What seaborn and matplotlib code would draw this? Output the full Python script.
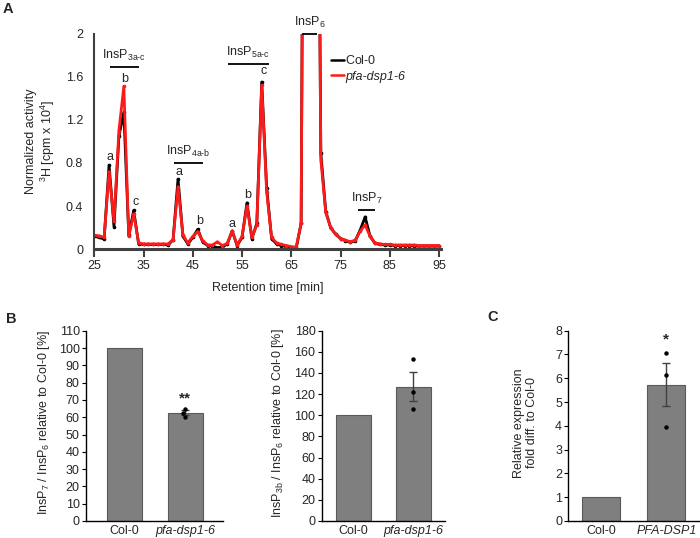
"""Inositol pyrophosphate profiles: HPLC trace (A), ratio bars (B) and expression (C)."""

# %% Import dependencies ----
import matplotlib
matplotlib.use('Agg')
import matplotlib.pyplot as plt
from matplotlib.lines import Line2D
import pandas as pd
import seaborn as sns


# %% Data ----
# SAX-HPLC trace, one fraction per minute
minutes = list(range(25, 96))
col0_activity = [
    0.12, 0.11, 0.095, 0.78, 0.21, 1.05, 1.27, 0.13, 0.36, 0.05,      # 25-34
    0.045, 0.045, 0.045, 0.045, 0.045, 0.04, 0.09, 0.65, 0.12, 0.05,  # 35-44
    0.11, 0.185, 0.07, 0.035, 0.03, 0.015, 0.02, 0.05, 0.17, 0.035,   # 45-54
    0.11, 0.43, 0.10, 0.24, 1.55, 0.57, 0.10, 0.05, 0.035, 0.025,     # 55-64
    0.01, 0.01, 0.24, 9.0, 10.0, 7.0, 0.89, 0.35, 0.20, 0.14,         # 65-74
    0.10, 0.08, 0.065, 0.08, 0.18, 0.30, 0.12, 0.055, 0.045, 0.04,    # 75-84
    0.04, 0.035, 0.035, 0.035, 0.035, 0.03, 0.03, 0.03, 0.03, 0.03,   # 85-94
    0.03]                                                             # 95
pfa_activity = [
    0.13, 0.125, 0.11, 0.72, 0.26, 1.10, 1.51, 0.12, 0.33, 0.06,
    0.05, 0.05, 0.05, 0.05, 0.05, 0.05, 0.09, 0.58, 0.13, 0.06,
    0.12, 0.165, 0.08, 0.04, 0.04, 0.07, 0.035, 0.055, 0.17, 0.04,
    0.12, 0.40, 0.11, 0.225, 1.52, 0.53, 0.11, 0.06, 0.045, 0.035,
    0.025, 0.02, 0.245, 9.0, 10.0, 7.0, 0.83, 0.34, 0.20, 0.14,
    0.10, 0.085, 0.07, 0.085, 0.17, 0.225, 0.12, 0.06, 0.05, 0.045,
    0.045, 0.04, 0.04, 0.04, 0.04, 0.04, 0.035, 0.035, 0.035, 0.035,
    0.035]

# peak group annotations: label, start, end, height
peak_groups = [
    (r'InsP$_{\text{3a-c}}$', 28.2, 34.0, 1.69),
    (r'InsP$_{\text{4a-b}}$', 41.2, 47.0, 0.80),
    (r'InsP$_{\text{5a-c}}$', 52.1, 60.4, 1.72),
    (r'InsP$_{6}$', 67.2, 70.2, 2.0),
    (r'InsP$_{7}$', 78.6, 82.0, 0.365),
]
peak_letters = ['a', 'b', 'c', 'a', 'b', 'a', 'b', 'c']
peak_letter_x = [28.2, 31.1, 33.3, 42.1, 46.3, 53.0, 56.2, 59.3]
peak_letter_y = [0.86, 1.58, 0.435, 0.72, 0.26, 0.23, 0.50, 1.65]

# B left: InsP7 / InsP6
b1_genotypes = ['Col-0', 'pfa-dsp1-6']
b1_means = [100, 62.6]
b1_err = [0, 1.4]
b1_points = [65.0, 62.5, 60.3]

# B right: InsP3b / InsP6
b2_genotypes = ['Col-0', 'pfa-dsp1-6']
b2_means = [100, 127.1]
b2_err = [0, 13.8]
b2_points = [153.0, 122.4, 106.0]

# C: relative expression
c_genotypes = ['Col-0', 'PFA-DSP1']
c_means = [1.0, 5.73]
c_err = [0, 0.9]
c_points = [7.05, 6.15, 3.97]


# %% Style ----
sns.set_theme(style='ticks')
plt.rcParams['font.family'] = ['Liberation Sans', 'DejaVu Sans']
plt.rcParams['mathtext.fontset'] = 'custom'
plt.rcParams['mathtext.rm'] = 'Liberation Sans'
plt.rcParams['mathtext.it'] = 'Liberation Sans:italic'
plt.rcParams['mathtext.bf'] = 'Liberation Sans:bold'
plt.rcParams['font.size'] = 9

FS = 9
BAR_COLOR = '#7f7f7f'
BAR_EDGE = '#5a5a5a'

fig = plt.figure(figsize=(7, 5.38), dpi=100)


# %% Panel A: chromatogram ----
ax = fig.add_axes([0.1347, 0.5366, 0.4953, 0.4011])

trace_df = pd.DataFrame({'minute': minutes, 'Col-0': col0_activity, 'pfa': pfa_activity})
sns.lineplot(data=trace_df, x='minute', y='Col-0', color='black', lw=2.0,
             marker='o', markersize=2.6, markeredgewidth=0, ax=ax)
sns.lineplot(data=trace_df, x='minute', y='pfa', color='#ff1a1a', lw=2.0,
             marker='o', markersize=2.6, markeredgewidth=0, ax=ax)

ax.set_xlim(25, 95.4)
ax.set_ylim(0, 2)
ax.set_xticks(range(25, 96, 10))
ax.set_yticks([0, 0.4, 0.8, 1.2, 1.6, 2])
ax.set_yticklabels(['0', '0.4', '0.8', '1.2', '1.6', '2'])
sns.despine(ax=ax)
ax.spines['left'].set_color('#404040')
ax.spines['left'].set_linewidth(1.5)
ax.spines['bottom'].set_color('#404040')
ax.spines['bottom'].set_linewidth(2.2)
ax.tick_params(axis='x', length=6, width=1.5, color='#404040', pad=2, labelsize=FS)
ax.tick_params(axis='y', length=0, pad=8, labelsize=FS)
ax.set_xlabel('Retention time [min]', fontsize=FS, labelpad=7)
ax.set_ylabel('Normalized activity\n' + r'$^{3}$H [cpm x 10$^{4}$]', fontsize=FS, linespacing=1.1)
ax.yaxis.set_label_coords(-0.108, 0.5)

for label, x0, x1, yv in peak_groups:
    ax.plot([x0, x1], [yv, yv], color='black', lw=1.3, clip_on=False, solid_capstyle='butt')
    ax.text((x0 + x1) / 2, yv + 0.035, label, ha='center', va='bottom', fontsize=FS, clip_on=False)

for letter, xv, yv in zip(peak_letters, peak_letter_x, peak_letter_y):
    ax.text(xv, yv, letter, ha='center', va='center', fontsize=FS)

handles = [Line2D([], [], color='black', lw=1.8), Line2D([], [], color='#ff1a1a', lw=1.8)]
leg = ax.legend(handles, [r'Col-$\mathit{0}$', 'pfa-dsp1-6'], loc='upper left',
                bbox_to_anchor=(0.683, 0.905), frameon=False, fontsize=FS,
                handlelength=1.0, handletextpad=0.15, borderpad=0, borderaxespad=0,
                labelspacing=0.3)
leg.get_texts()[1].set_fontstyle('italic')


# %% Bar panels ----
def bar_panel(rect, genotypes, means, errs, points, ylim, yticks, ylabel, label_x, xlim, star=None):
    """Grey bars with SE error bar and single replicates"""
    bx = fig.add_axes(rect)
    sns.barplot(x=genotypes, y=means, color=BAR_COLOR, edgecolor=BAR_EDGE, linewidth=0.8,
                width=0.58, saturation=1, errorbar=None, ax=bx)
    bx.errorbar([1], [means[1]], yerr=[errs[1]], fmt='none', ecolor='#404040',
                elinewidth=1, capsize=3, capthick=1, zorder=4)
    pts = pd.DataFrame({'genotype': [genotypes[1]] * len(points), 'value': points})
    sns.swarmplot(data=pts, x='genotype', y='value', order=genotypes, color='black',
                  size=3.2, ax=bx, zorder=5)
    if star is not None:
        bx.text(1, star[1], star[0], ha='center', va='baseline', fontsize=11, fontweight='bold')
    bx.set_xlim(*xlim)
    bx.set_ylim(*ylim)
    bx.set_yticks(yticks)
    sns.despine(ax=bx)
    for side in ['left', 'bottom']:
        bx.spines[side].set_color('black')
        bx.spines[side].set_linewidth(1.0)
    bx.tick_params(axis='y', length=3, width=0.8, color='black', pad=1.5, labelsize=FS)
    bx.tick_params(axis='x', length=0, pad=3, labelsize=FS)
    bx.set_xticks([0, 1])
    bx.set_xticklabels(genotypes)
    bx.get_xticklabels()[1].set_fontstyle('italic')
    bx.set_xlabel('')
    bx.set_ylabel(ylabel, fontsize=FS, linespacing=1.1)
    bx.yaxis.set_label_coords(label_x, 0.515)
    return bx


bar_panel([0.1229, 0.0316, 0.1963, 0.3537], b1_genotypes, b1_means, b1_err, b1_points,
          (0, 110), range(0, 111, 10),
          r'InsP$_{7}$ / InsP$_{6}$ relative to Col-0 [%]', -0.25, (-0.626, 1.626),
          star=('**', 68.8))
bar_panel([0.4596, 0.0316, 0.1757, 0.3537], b2_genotypes, b2_means, b2_err, b2_points,
          (0, 180), range(0, 181, 20),
          r'InsP$_{\text{3b}}$ / InsP$_{6}$ relative to Col-0 [%]', -0.29, (-0.52, 1.52))
bar_panel([0.8119, 0.0316, 0.1871, 0.3537], c_genotypes, c_means, c_err, c_points,
          (0, 8), range(0, 9),
          'Relative expression\nfold diff. to Col-0', -0.23, (-0.505, 1.505),
          star=('*', 7.45))


# %% Panel letters ----
fig.text(0.011, 0.983, 'A', fontsize=10.5, fontweight='bold', ha='center', va='center')
fig.text(0.0157, 0.407, 'B', fontsize=10.5, fontweight='bold', ha='center', va='center')
fig.text(0.704, 0.411, 'C', fontsize=10.5, fontweight='bold', ha='center', va='center')

fig.savefig('out.png', dpi=100)
